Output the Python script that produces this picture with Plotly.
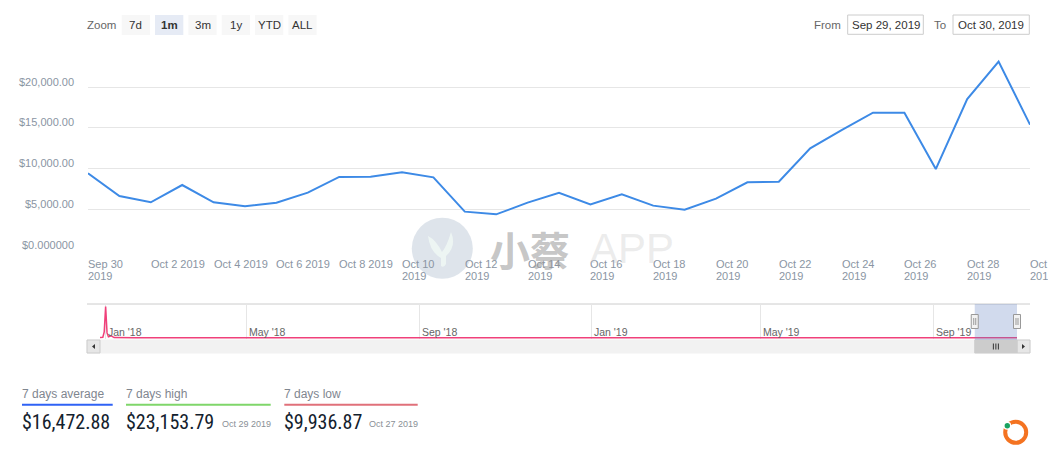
import pandas as pd
import plotly.graph_objects as go

W, H = 1048, 461
FONT = "Liberation Sans, Arial, Helvetica, sans-serif"
NARROW = "Liberation Sans Narrow, Arial Narrow, Roboto Condensed, Liberation Sans, sans-serif"
CJK = "Noto Sans CJK SC, sans-serif"

# ---------------- data ----------------
main_dates = [
    "2019-09-30", "2019-10-01", "2019-10-02", "2019-10-03", "2019-10-04", "2019-10-05",
    "2019-10-06", "2019-10-07", "2019-10-08", "2019-10-09", "2019-10-10", "2019-10-11",
    "2019-10-12", "2019-10-13", "2019-10-14", "2019-10-15", "2019-10-16", "2019-10-17",
    "2019-10-18", "2019-10-19", "2019-10-20", "2019-10-21", "2019-10-22", "2019-10-23",
    "2019-10-24", "2019-10-25", "2019-10-26", "2019-10-27", "2019-10-28", "2019-10-29",
    "2019-10-30",
]
main_values = [
    9420, 6630, 5860, 7985, 5860, 5370,
    5815, 7040, 8970, 9000, 9545, 8930,
    4710, 4380, 5815, 7040, 5610, 6840,
    5450, 4955, 6310, 8310, 8395, 12490,
    14740, 16870, 16870, 9936.87, 18550, 23153.79,
    15400,
]

y_tick_vals = [0, 5000, 10000, 15000, 20000, 25000]
y_tick_text = ["$0.000000", "$5,000.00", "$10,000.00", "$15,000.00", "$20,000.00", ""]

x_tick_dates = [
    "2019-09-30", "2019-10-02", "2019-10-04", "2019-10-06", "2019-10-08", "2019-10-10",
    "2019-10-12", "2019-10-14", "2019-10-16", "2019-10-18", "2019-10-20", "2019-10-22",
    "2019-10-24", "2019-10-26", "2019-10-28", "2019-10-30",
]
x_tick_line1 = [
    "Sep 30", "Oct 2 2019", "Oct 4 2019", "Oct 6 2019", "Oct 8 2019", "Oct 10",
    "Oct 12", "Oct 14", "Oct 16", "Oct 18", "Oct 20", "Oct 22",
    "Oct 24", "Oct 26", "Oct 28", "Oct 30",
]
x_tick_line2 = [
    "2019", "", "", "", "", "2019",
    "2019", "2019", "2019", "2019", "2019", "2019",
    "2019", "2019", "2019", "2019",
]

nav_start, nav_end = "2018-01-17", "2019-10-30"
nav_dates = [
    "2018-01-17", "2018-01-19", "2018-01-20", "2018-01-21", "2018-01-22", "2018-01-23",
    "2018-01-25", "2018-01-27", "2018-02-10", "2018-04-01", "2018-06-15", "2018-09-01",
    "2018-12-01", "2019-03-01", "2019-06-01", "2019-09-29",
] + main_dates
nav_values = [
    30000, 45000, 300000, 1500000, 250000, 60000,
    110000, 30000, 15000, 12000, 14000, 10000,
    9000, 11000, 9000, 9000,
] + main_values
nav_tick_dates = ["2018-01-21", "2018-05-01", "2018-09-01", "2019-01-01", "2019-05-01", "2019-09-01"]
nav_tick_text = ["Jan '18", "May '18", "Sep '18", "Jan '19", "May '19", "Sep '19"]

zoom_buttons = ["7d", "1m", "3m", "1y", "YTD", "ALL"]
selected_button = "1m"
date_from, date_to = "Sep 29, 2019", "Oct 30, 2019"

stat_labels = ["7 days average", "7 days high", "7 days low"]
stat_values = ["$16,472.88", "$23,153.79", "$9,936.87"]
stat_dates = ["", "Oct 29 2019", "Oct 27 2019"]
stat_colors = ["#2f62f5", "#7fd66a", "#e0707a"]


# ---------------- helpers ----------------
def px(x):
    return x / W


def py(y):
    return 1 - y / H


NAV_L, NAV_R = 100, 1017


def nav_paper(d):
    t0, t1 = pd.Timestamp(nav_start), pd.Timestamp(nav_end)
    f = (pd.Timestamp(d) - t0) / (t1 - t0)
    return px(NAV_L + f * (NAV_R - NAV_L))


annotations = []
shapes = []


def text(x, y, s, size=11, color="#333333", family=FONT, xanchor="left", xref="paper", yref="paper", **kw):
    annotations.append(dict(
        x=x, y=y, xref=xref, yref=yref, text=s, showarrow=False,
        xanchor=xanchor, yanchor="middle", borderpad=0, borderwidth=0,
        font=dict(size=size, color=color, family=family), **kw))


def rect(x0, y0, x1, y1, fill, line="rgba(0,0,0,0)", lw=0, layer="below", xref="paper"):
    shapes.append(dict(type="rect", xref=xref, yref="paper",
                       x0=x0, x1=x1, y0=y0, y1=y1, fillcolor=fill,
                       line=dict(color=line, width=lw), layer=layer))


def line(x0, y0, x1, y1, color, width=1, layer="above"):
    shapes.append(dict(type="line", xref="paper", yref="paper", x0=x0, x1=x1, y0=y0, y1=y1,
                       line=dict(color=color, width=width), layer=layer))


fig = go.Figure()

# main series
fig.add_trace(go.Scatter(
    x=main_dates, y=main_values, mode="lines",
    line=dict(color="#3d8ae6", width=2), name="price",
    hovertemplate="%{x|%b %d %Y}<br>$%{y:,.2f}<extra></extra>",
))

# navigator series
fig.add_trace(go.Scatter(
    x=nav_dates, y=nav_values, mode="lines", xaxis="x2", yaxis="y2",
    line=dict(color="#f0407a", width=1.5), hoverinfo="skip",
))

# ---------- y tick labels ----------
for v, t in zip(y_tick_vals, y_tick_text):
    if t:
        text(px(73.5), v, t, size=11, color="#8a95a3", xanchor="right", yref="y", yshift=5.5)

# ---------- x tick labels ----------
for d, l1, l2 in zip(x_tick_dates, x_tick_line1, x_tick_line2):
    text(d, py(263.7), l1, size=11, color="#8a95a3", xref="x")
    if l2:
        text(d, py(276.2), l2, size=11, color="#8a95a3", xref="x")

# ---------- navigator ----------
line(px(87), py(304), px(1030), py(304), "#cccccc", 1, layer="below")
for d, t in zip(nav_tick_dates, nav_tick_text):
    text(d, py(332.3), t, size=10.5, color="#666666", xref="x2", xshift=2.5)

sel0, sel1 = main_dates[0], main_dates[-1]
s0, s1 = nav_paper(sel0), nav_paper(sel1)
rect(s0, py(340), s1, py(304), "rgba(102,133,194,0.3)", layer="above")

# scrollbar
rect(px(87), py(353), px(1030), py(340), "#f2f2f2", "#f2f2f2", 1)
rect(px(87), py(353), px(100), py(340), "#e6e6e6", "#cccccc", 1)
rect(px(1017), py(353), px(1030), py(340), "#e6e6e6", "#cccccc", 1)
rect(s0, py(353), s1, py(340), "#cccccc", "#cccccc", 1)
shapes.append(dict(type="path", xref="paper", yref="paper", fillcolor="#333333", line=dict(width=0),
                   path=f"M {px(92)} {py(346.5)} L {px(95)} {py(344)} L {px(95)} {py(349)} Z"))
shapes.append(dict(type="path", xref="paper", yref="paper", fillcolor="#333333", line=dict(width=0),
                   path=f"M {px(1025)} {py(346.5)} L {px(1022)} {py(344)} L {px(1022)} {py(349)} Z"))
midpx = (s0 + s1) / 2 * W
for off in (-2.5, 0, 2.5):
    line(px(midpx + off), py(349.5), px(midpx + off), py(343.5), "#333333", 1)

# handles
for s in (s0, s1):
    c = s * W
    shapes.append(dict(type="rect", xref="paper", yref="paper",
                       x0=px(c - 3.5), x1=px(c + 3.5), y0=py(328.5), y1=py(314.5),
                       fillcolor="#f2f2f2", line=dict(color="#999999", width=1), layer="above"))
    for off in (-1, 1):
        line(px(c + off), py(325), px(c + off), py(318), "#999999", 1)

# ---------- range selector ----------
text(px(87.3), py(24.8), "Zoom", size=11.5, color="#666666")
for i, b in enumerate(zoom_buttons):
    x0 = 121.7 + i * 33.33
    sel = b == selected_button
    rect(px(x0), py(35), px(x0 + 28.3), py(15), "#e6ebf5" if sel else "#f7f7f7")
    text(px(x0 + 14.15), py(24.8), f"<b>{b}</b>" if sel else b, size=11.5,
         color="#333333", xanchor="center")

text(px(814), py(24.8), "From", size=11.5, color="#666666")
rect(px(847.7), py(34.3), px(923.3), py(15), "#ffffff", "#cccccc", 1)
text(px(885.5), py(24.8), date_from, size=11.5, color="#333333", xanchor="center")
text(px(934), py(24.8), "To", size=11.5, color="#666666")
rect(px(953), py(34.3), px(1029.3), py(15), "#ffffff", "#cccccc", 1)
text(px(991.2), py(24.8), date_to, size=11.5, color="#333333", xanchor="center")

# ---------- stats ----------
stat_left = [22, 126, 284.3]
stat_right = [112.7, 270.7, 417.7]
for i in range(3):
    text(px(stat_left[i]), py(394), stat_labels[i], size=12, color="#7f868f")
    line(px(stat_left[i]), py(404.7), px(stat_right[i]), py(404.7), stat_colors[i], 2)
    text(px(stat_left[i]), py(421.5), stat_values[i], size=20, color="#13212d", family=NARROW)
    if stat_dates[i]:
        text(px(stat_right[i]), py(424.3), stat_dates[i], size=9, color="#8a8f96", xanchor="right")

# ---------- watermark ----------
shapes.append(dict(type="circle", xref="paper", yref="paper", x0=px(411.8), x1=px(472.8),
                   y0=py(278.8), y1=py(217.8), fillcolor="rgba(200,210,222,0.6)",
                   line=dict(width=0), layer="above"))
shapes.append(dict(type="path", xref="paper", yref="paper", layer="above",
                   fillcolor="rgba(240,248,244,0.85)", line=dict(width=0),
                   path=(f"M {px(428)} {py(236)} Q {px(430)} {py(252)} {px(441)} {py(258)} "
                         f"L {px(441)} {py(266)} Q {px(444)} {py(268)} {px(446)} {py(264)} "
                         f"L {px(446)} {py(256)} Q {px(457)} {py(246)} {px(451)} {py(232)} "
                         f"Q {px(447)} {py(246)} {px(442)} {py(252)} Q {px(436)} {py(240)} {px(428)} {py(236)} Z")))
text(px(490), py(249), "<b>小蔡</b>", size=40, color="rgba(150,150,150,0.55)", family=CJK)
text(px(590), py(249), "APP", size=42, color="rgba(200,200,200,0.35)", family=FONT)

# ---------- logo ----------
shapes.append(dict(type="circle", xref="paper", yref="paper", x0=px(1005.2), x1=px(1026.2),
                   y0=py(442.8), y1=py(421.8), line=dict(color="#f47321", width=4)))
shapes.append(dict(type="circle", xref="paper", yref="paper", x0=px(1003.3), x1=px(1011.3),
                   y0=py(429.7), y1=py(421.7), fillcolor="#ffffff", line=dict(width=0)))
shapes.append(dict(type="circle", xref="paper", yref="paper", x0=px(1004.6), x1=px(1010),
                   y0=py(428.4), y1=py(423), fillcolor="#1aa260", line=dict(width=0)))

fig.update_layout(
    width=W, height=H,
    margin=dict(l=0, r=0, t=0, b=0),
    paper_bgcolor="#ffffff", plot_bgcolor="rgba(0,0,0,0)",
    showlegend=False,
    font=dict(family=FONT),
    xaxis=dict(domain=[px(88), px(1030)], range=[main_dates[0], main_dates[-1]], type="date",
               showgrid=False, showticklabels=False, zeroline=False, showline=False,
               ticks="", fixedrange=True),
    yaxis=dict(domain=[py(250), py(46.5)], range=[0, 25000], tickvals=y_tick_vals,
               showticklabels=False, gridcolor="#e6e6e6", gridwidth=1, zeroline=False,
               showline=False, ticks="", fixedrange=True),
    xaxis2=dict(domain=[px(NAV_L), px(NAV_R)], range=[nav_start, nav_end], type="date",
                anchor="y2", tickvals=nav_tick_dates, showticklabels=False, showgrid=True,
                gridcolor="#e6e6e6", zeroline=False, ticks="", fixedrange=True),
    yaxis2=dict(domain=[py(339), py(304)], range=[-40000, 1620000], anchor="x2",
                showgrid=False, showticklabels=False, zeroline=False, ticks="", fixedrange=True),
    annotations=annotations,
    shapes=shapes,
)

fig.write_html("out.html")
